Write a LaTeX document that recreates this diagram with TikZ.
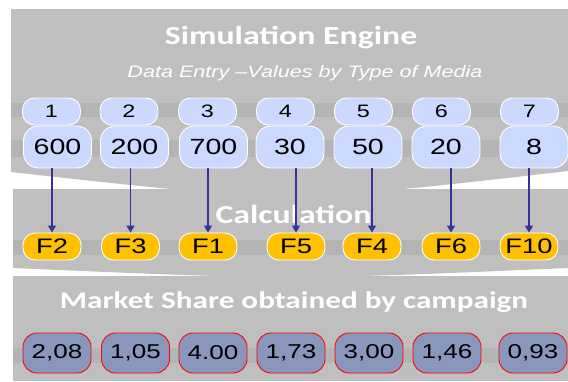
\documentclass[tikz,border=0pt]{standalone}
\usepackage{fontspec}
\usetikzlibrary{arrows.meta}
\newfontfamily\ttlfont[FakeStretch=1.3]{Carlito}
\newfontfamily\arw[FakeStretch=1.3]{Liberation Sans}
\definecolor{panelgray}{HTML}{BFBFBF}
\definecolor{bandgray}{HTML}{B4B4B4}
\definecolor{lightblue}{HTML}{CCD9FF}
\definecolor{fbox}{HTML}{FFC000}
\definecolor{msbox}{HTML}{8A97BD}
\definecolor{arrowblue}{HTML}{333399}
\tikzset{
  numbox/.style={draw=white, line width=0.9pt, fill=lightblue, rounded corners=12pt,
    minimum width=58pt, minimum height=27pt, inner sep=0pt, font=\arw\fontsize{18}{18}\selectfont},
  valbox/.style={draw=white, line width=0.9pt, fill=lightblue, rounded corners=15pt,
    minimum width=68pt, minimum height=42pt, inner sep=0pt, font=\arw\fontsize{22}{22}\selectfont},
  calcbox/.style={draw=white, line width=0.9pt, fill=fbox, rounded corners=12pt,
    minimum width=58pt, minimum height=27pt, inner sep=0pt, font=\arw\fontsize{21}{21}\selectfont},
  mbox/.style={draw=red, line width=0.9pt, fill=msbox, rounded corners=14pt,
    minimum width=68pt, minimum height=40pt, inner sep=0pt, font=\arw\fontsize{20}{20}\selectfont},
  ttl/.style={text=white, anchor=base, inner sep=0pt, font=\ttlfont\bfseries\fontsize{26}{26}\selectfont},
  subttl/.style={text=white, anchor=base, inner sep=0pt, font=\arw\itshape\fontsize{16.6}{17}\selectfont},
  flow/.style={draw=arrowblue, line width=1.4pt, -{Triangle[width=8pt,length=7pt]}}
}
\begin{document}
\begin{tikzpicture}[x=1pt,y=-1pt]
\useasboundingbox (0,0) rectangle (568,381);
\fill[white] (0,0) rectangle (568,381);
% panels
\fill[panelgray] (11,9) -- (568,9) -- (568,171) .. controls (290,203) .. (11,172) -- cycle;
\fill[panelgray] (13,189) -- (568,189) -- (568,268) .. controls (290,280) .. (13,268) -- cycle;
\fill[panelgray] (13,276) rectangle (568,381);
% bands
\fill[bandgray] (11,103) rectangle (568,117);
\fill[bandgray] (11,140) rectangle (568,157);
\fill[bandgray] (13,240) rectangle (568,255);
\fill[bandgray] (13,348) rectangle (568,363);
% titles
\node[ttl] (t1) at (291,44) {Simulation Engine};
\node[subttl] (t2) at (305,77) {Data Entry –Values by Type of Media};
\node[ttl] (t3) at (293.5,223) {Calculation};
\node[ttl, font=\ttlfont\bfseries\fontsize{24}{24}\selectfont] (t4) at (294,308) {Market Share obtained by campaign};
% number boxes
\node[numbox] (n1) at (51.5,111.5) {1};
\node[numbox] (n2) at (129,111.5) {2};
\node[numbox] (n3) at (207.5,111.5) {3};
\node[numbox] (n4) at (285.5,111.5) {4};
\node[numbox] (n5) at (363.5,111.5) {5};
\node[numbox] (n6) at (441.5,111.5) {6};
\node[numbox] (n7) at (529.5,111.5) {7};
% value boxes
\node[valbox] (v1) at (57.5,147) {600};
\node[valbox] (v2) at (134.5,147) {200};
\node[valbox] (v3) at (213.5,147) {700};
\node[valbox] (v4) at (290,147) {30};
\node[valbox] (v5) at (368,147) {50};
\node[valbox] (v6) at (446,147) {20};
\node[valbox] (v7) at (534,147) {8};
% calculation boxes
\node[calcbox] (f1) at (52,246.5) {F2};
\node[calcbox] (f2) at (130.5,246.5) {F3};
\node[calcbox] (f3) at (208,246.5) {F1};
\node[calcbox] (f4) at (296,246.5) {F5};
\node[calcbox] (f5) at (372,246.5) {F4};
\node[calcbox] (f6) at (451,246.5) {F6};
\node[calcbox] (f7) at (529,246.5) {F10};
% market share boxes
\node[mbox] (m1) at (57,353) {2,08};
\node[mbox] (m2) at (135.5,353) {1,05};
\node[mbox] (m3) at (213,353) {4.00};
\node[mbox] (m4) at (291,353) {1,73};
\node[mbox] (m5) at (369,353) {3,00};
\node[mbox] (m6) at (447,353) {1,46};
\node[mbox] (m7) at (533,353) {0,93};
% arrows
\foreach \i in {1,...,7} {
  \draw[flow] (f\i.north |- v\i.south) -- (f\i.north);
}
\end{tikzpicture}
\end{document}
